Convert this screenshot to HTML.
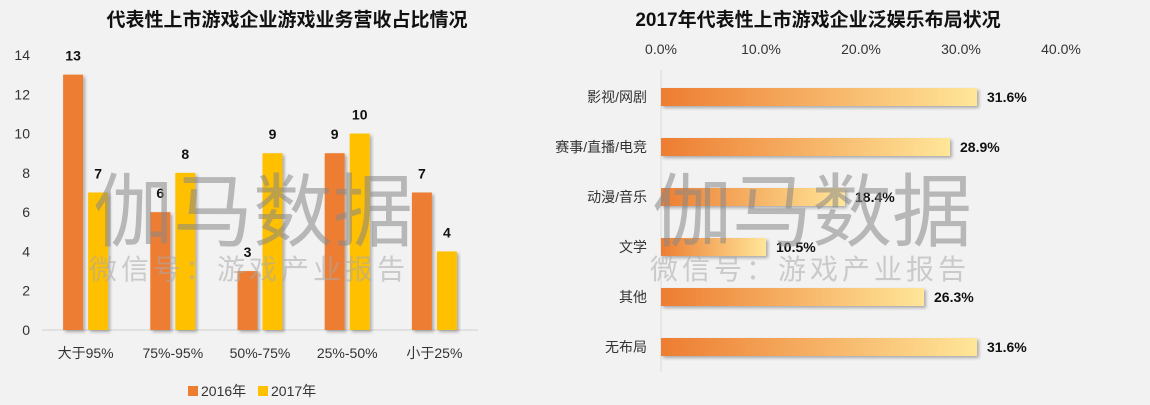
<!DOCTYPE html>
<html><head><meta charset="utf-8"><style>
body{margin:0;background:#f2f2f2;font-family:"Liberation Sans","Noto Sans CJK SC",sans-serif;}
svg{display:block}
</style></head><body>
<svg width="1150" height="405" xmlns="http://www.w3.org/2000/svg" id="root" style="font-family:'Liberation Sans','Noto Sans CJK SC',sans-serif">
<defs>
<linearGradient id="g" x1="0" x2="1" y1="0" y2="0"><stop offset="0" stop-color="#ED7D31"/><stop offset="1" stop-color="#FFE699"/></linearGradient>
<filter id="sh" x="-10%" y="-10%" width="130%" height="160%"><feDropShadow dx="2" dy="2" stdDeviation="1.5" flood-color="#000" flood-opacity="0.3"/></filter>
</defs>
<rect width="1150" height="405" fill="#f2f2f2"/>
<text x="287" y="26" text-anchor="middle" font-size="19" font-weight="bold" fill="#111">代表性上市游戏企业游戏业务营收占比情况</text>
<text x="818" y="26" text-anchor="middle" font-size="19" font-weight="bold" fill="#111">2017年代表性上市游戏企业泛娱乐布局状况</text>
<g id="left"></g>
<g id="right"></g>
<g fill="#888" opacity="0.55">
<text x="253" y="240" text-anchor="middle" font-size="80">伽马数据</text>
<text x="249" y="279" text-anchor="middle" font-size="28" letter-spacing="4" fill="#aaa">微信号：游戏产业报告</text>
</g>
<g fill="#888" opacity="0.55">
<text x="812" y="240" text-anchor="middle" font-size="80">伽马数据</text>
<text x="810" y="279" text-anchor="middle" font-size="28" letter-spacing="4" fill="#aaa">微信号：游戏产业报告</text>
</g>
</svg>
<script>
const NS='http://www.w3.org/2000/svg';
const cats=['大于95%','75%-95%','50%-75%','25%-50%','小于25%'];
const v2016=[13,6,3,9,7];
const v2017=[7,8,9,10,4];
const yTicks=[0,2,4,6,8,10,12,14];
const rCats=['影视/网剧','赛事/直播/电竞','动漫/音乐','文学','其他','无布局'];
const rVals=[31.6,28.9,18.4,10.5,26.3,31.6];
const xTicks=[0,10,20,30,40];
function mk(p,t,a,txt){const e=document.createElementNS(NS,t);for(const k in a)e.setAttribute(k,a[k]);if(txt!==undefined)e.textContent=txt;p.appendChild(e);return e;}
const L=document.getElementById('left');
const y=v=>330-v*(275/14);
const gx=i=>42+87.2*(i+0.5);
yTicks.forEach(t=>{const e=mk(L,'text',{x:30,y:y(t)+5,'text-anchor':'end','font-size':14,fill:'#333'},t);

});
const ax=mk(L,'line',{x1:42,x2:478,y1:330,y2:330,stroke:'#d0d0d0'});


cats.forEach((c,i)=>{
const b1=mk(L,'rect',{x:gx(i)-22.5,y:y(v2016[i]),width:20,height:330-y(v2016[i]),fill:'#ED7D31',filter:'url(#sh)'});


const b2=mk(L,'rect',{x:gx(i)+2.5,y:y(v2017[i]),width:20,height:330-y(v2017[i]),fill:'#FFC000',filter:'url(#sh)'});


const l1=mk(L,'text',{x:gx(i)-12.5,y:y(v2016[i])-14,'text-anchor':'middle','font-size':14,'font-weight':'bold',fill:'#111'},v2016[i]);


const l2=mk(L,'text',{x:gx(i)+12.5,y:y(v2017[i])-14,'text-anchor':'middle','font-size':14,'font-weight':'bold',fill:'#111'},v2017[i]);


const cl=mk(L,'text',{x:gx(i),y:358,'text-anchor':'middle','font-size':14,fill:'#333'},c);


});
const lg=mk(L,'g',{});


mk(lg,'rect',{x:188,y:386,width:10,height:10,fill:'#ED7D31'});
mk(lg,'text',{x:201,y:396,'font-size':14,fill:'#333'},'2016年');
mk(lg,'rect',{x:258,y:386,width:10,height:10,fill:'#FFC000'});
mk(lg,'text',{x:271,y:396,'font-size':14,fill:'#333'},'2017年');
const R=document.getElementById('right');
const x=v=>661+v*10;
const ry=i=>97+50*i;
xTicks.forEach(t=>{const e=mk(R,'text',{x:x(t),y:54,'text-anchor':'middle','font-size':14,fill:'#333'},t.toFixed(1)+'%');

});
const va=mk(R,'line',{x1:661,x2:661,y1:70,y2:372,stroke:'#d9d9d9'});


rCats.forEach((c,i)=>{
const b=mk(R,'rect',{x:661,y:ry(i)-9,width:x(rVals[i])-661,height:18,fill:'url(#g)',filter:'url(#sh)'});


const l=mk(R,'text',{x:x(rVals[i])+10,y:ry(i)+5,'font-size':14,'font-weight':'bold',fill:'#111'},rVals[i].toFixed(1)+'%');


const cl=mk(R,'text',{x:647,y:ry(i)+5,'text-anchor':'end','font-size':14,fill:'#333'},c);


});
</script>
</body></html>
